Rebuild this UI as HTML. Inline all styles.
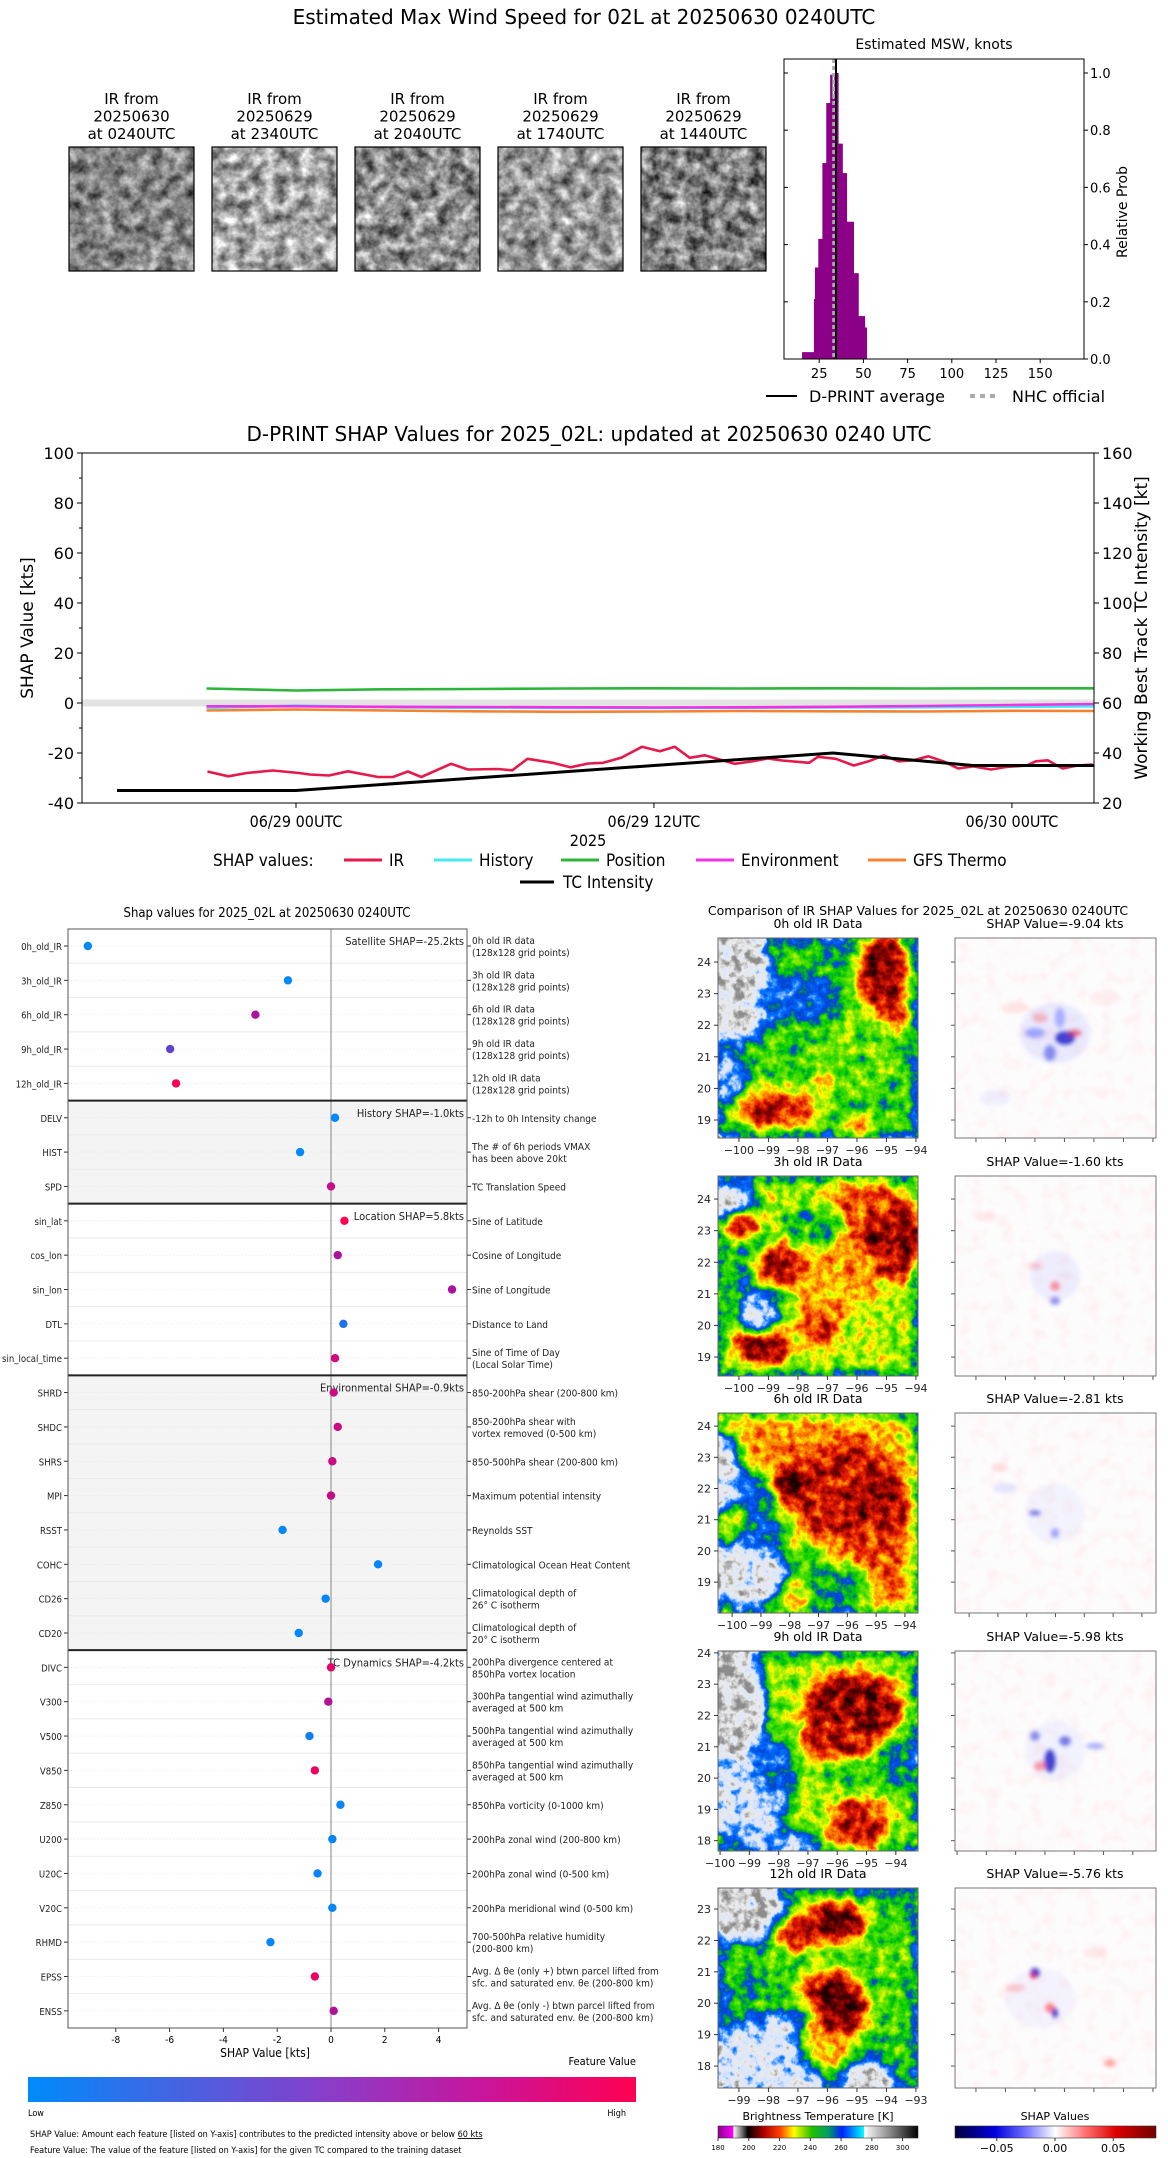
<!DOCTYPE html>
<html><head><meta charset="utf-8"><title>D-PRINT</title>
<style>
html,body{margin:0;padding:0;background:#fff;}
svg{display:block;font-family:"DejaVu Sans","Liberation Sans",sans-serif;}
.cond{font-family:"DejaVu Sans Condensed","Liberation Sans Narrow","DejaVu Sans",sans-serif;}
</style></head>
<body>
<svg id="fig" xmlns="http://www.w3.org/2000/svg" width="1168" height="2158" viewBox="0 0 1168 2158">
<defs>
  <filter id="irmap" x="0" y="0" width="1" height="1" color-interpolation-filters="sRGB">
    <feGaussianBlur in="SourceGraphic" stdDeviation="7" result="b"/>
    <feTurbulence type="fractalNoise" baseFrequency="0.09" numOctaves="4" seed="3" result="t"/>
    <feColorMatrix in="t" type="matrix" values="1 0 0 0 0  1 0 0 0 0  1 0 0 0 0  0 0 0 0 1" result="tg"/>
    <feComposite in="b" in2="tg" operator="arithmetic" k1="0" k2="1" k3="0.4" k4="-0.2" result="c"/>
    <feComponentTransfer in="c">
      <feFuncR type="table" tableValues="0.55 0.92 0.85 0 0 0 0.45 1 1 0.9 0.5 0.12"/>
      <feFuncG type="table" tableValues="0.55 0.92 0.9 0.45 0.25 0.8 0.9 1 0.55 0.1 0 0"/>
      <feFuncB type="table" tableValues="0.55 0.92 1 1 0.85 0 0 0 0 0 0 0"/>
      <feFuncA type="table" tableValues="1 1"/>
    </feComponentTransfer>
  </filter>
  <filter id="gray1" x="0" y="0" width="1" height="1" color-interpolation-filters="sRGB">
    <feTurbulence type="fractalNoise" baseFrequency="0.08" numOctaves="4" seed="7"/>
    <feColorMatrix type="matrix" values="1.0 0 0 0 0.02  1.0 0 0 0 0.02  1.0 0 0 0 0.02  0 0 0 0 1"/>
  </filter>
  <filter id="gray2" x="0" y="0" width="1" height="1" color-interpolation-filters="sRGB">
    <feTurbulence type="fractalNoise" baseFrequency="0.08" numOctaves="4" seed="11"/>
    <feColorMatrix type="matrix" values="1.1 0 0 0 0.1  1.1 0 0 0 0.1  1.1 0 0 0 0.1  0 0 0 0 1"/>
  </filter>
  <filter id="gray3" x="0" y="0" width="1" height="1" color-interpolation-filters="sRGB">
    <feTurbulence type="fractalNoise" baseFrequency="0.08" numOctaves="4" seed="21"/>
    <feColorMatrix type="matrix" values="1.2 0 0 0 -0.05  1.2 0 0 0 -0.05  1.2 0 0 0 -0.05  0 0 0 0 1"/>
  </filter>
  <filter id="gray4" x="0" y="0" width="1" height="1" color-interpolation-filters="sRGB">
    <feTurbulence type="fractalNoise" baseFrequency="0.08" numOctaves="4" seed="31"/>
    <feColorMatrix type="matrix" values="1.1 0 0 0 0.05  1.1 0 0 0 0.05  1.1 0 0 0 0.05  0 0 0 0 1"/>
  </filter>
  <filter id="gray5" x="0" y="0" width="1" height="1" color-interpolation-filters="sRGB">
    <feTurbulence type="fractalNoise" baseFrequency="0.08" numOctaves="4" seed="41"/>
    <feColorMatrix type="matrix" values="1.2 0 0 0 -0.1  1.2 0 0 0 -0.1  1.2 0 0 0 -0.1  0 0 0 0 1"/>
  </filter>
  <filter id="shapnoise" x="0" y="0" width="1" height="1" color-interpolation-filters="sRGB">
    <feTurbulence type="fractalNoise" baseFrequency="0.07" numOctaves="2" seed="5"/>
    <feColorMatrix type="matrix" values="0 0 0 0 1  0 0 0 0 0.8  0 0 0 0 0.8  1.2 0 0 0 -0.55"/>
  </filter>
  <filter id="shapblur" x="-0.2" y="-0.2" width="1.4" height="1.4"><feGaussianBlur stdDeviation="2.2"/></filter>
  <linearGradient id="featgrad" x1="0" x2="1" y1="0" y2="0">
    <stop offset="0" stop-color="#008afb"/><stop offset="0.5" stop-color="#8b3cc8"/><stop offset="0.75" stop-color="#c8149b"/><stop offset="1" stop-color="#ff0052"/>
  </linearGradient>
  <linearGradient id="btgrad" x1="0" x2="1" y1="0" y2="0">
    <stop offset="0" stop-color="#8a008a"/><stop offset="0.076" stop-color="#ff00ff"/><stop offset="0.077" stop-color="#ffffff"/>
    <stop offset="0.115" stop-color="#808080"/><stop offset="0.15" stop-color="#000000"/><stop offset="0.23" stop-color="#b00000"/>
    <stop offset="0.31" stop-color="#ff4000"/><stop offset="0.38" stop-color="#ffff00"/><stop offset="0.47" stop-color="#20c000"/>
    <stop offset="0.55" stop-color="#00a060"/><stop offset="0.62" stop-color="#0020ff"/><stop offset="0.73" stop-color="#00ffff"/>
    <stop offset="0.731" stop-color="#ffffff"/><stop offset="0.86" stop-color="#888888"/><stop offset="1" stop-color="#000000"/>
  </linearGradient>
  <linearGradient id="shapgrad" x1="0" x2="1" y1="0" y2="0">
    <stop offset="0" stop-color="#00003a"/><stop offset="0.2" stop-color="#0000e0"/><stop offset="0.35" stop-color="#7070ff"/>
    <stop offset="0.5" stop-color="#ffffff"/><stop offset="0.65" stop-color="#ff7070"/><stop offset="0.8" stop-color="#e00000"/><stop offset="1" stop-color="#700000"/>
  </linearGradient>
</defs>
</svg>
<script>
// ---------------- DATA ----------------
const histBinLeft  = [15.3, 22.0, 22.6, 24.5, 26.8, 29.0, 31.2, 32.4, 33.5, 35.8, 38.2, 40.6, 44.5, 47.2, 50.8];
const histBinRight = [22.0, 22.6, 24.5, 26.8, 29.0, 31.2, 32.4, 33.5, 35.8, 38.2, 40.6, 44.5, 47.2, 50.8, 51.9];
const histProb     = [0.024, 0.21, 0.32, 0.42, 0.685, 0.895, 0.994, 0.91, 1.0, 0.753, 0.65, 0.48, 0.30, 0.15, 0.11];
const histXTicks = [25, 50, 75, 100, 125, 150];
const histYTicks = [0.0, 0.2, 0.4, 0.6, 0.8, 1.0];
const dprintAvg = 34.5;
const nhcOfficial = 33.2;

const irTimes = [-2.97,-2.27,-1.65,-0.78,0.1,0.46,1.11,1.74,2.75,3.25,3.75,4.2,5.2,5.76,6.76,7.25,7.76,8.6,9.2,9.8,10.3,10.9,11.6,12.2,12.7,13.2,13.7,14.2,14.7,15.3,15.8,16.3,17.2,17.5,18.1,18.7,19.2,19.7,20.2,20.7,21.2,21.7,22.2,22.7,23.3,23.8,24.5,24.8,25.2,25.7,26.2,26.7];
const irShap  = [-27.4,-29.3,-28.0,-27.0,-28.0,-28.6,-29.0,-27.3,-29.6,-29.6,-27.4,-29.6,-24.3,-26.6,-26.4,-26.9,-22.3,-23.9,-25.7,-24.2,-23.9,-21.9,-17.5,-19.3,-17.5,-21.9,-20.9,-22.6,-24.3,-23.3,-22.2,-23.0,-23.9,-21.5,-22.3,-25.0,-23.3,-20.9,-23.3,-22.9,-21.3,-23.3,-26.2,-25.3,-26.6,-25.6,-25.0,-23.3,-22.9,-26.2,-25.0,-24.6];
const grpTimes   = [-3, 0, 3, 6, 9, 12, 15, 18, 21, 24, 26.75];
const historyShap  = [-2.0,-1.0,-1.7,-1.9,-2.0,-2.0,-1.9,-1.8,-1.7,-1.5,-1.3];
const positionShap = [5.8, 5.0, 5.5, 5.6, 5.8, 5.9, 5.8, 5.9, 5.8, 5.9, 5.9];
const envShap      = [-1.3,-1.3,-1.5,-1.6,-1.7,-1.8,-1.7,-1.5,-1.2,-0.8,-0.4];
const gfsShap      = [-3.0,-2.6,-3.0,-3.3,-3.5,-3.4,-3.2,-3.3,-3.4,-3.1,-3.2];
const tcTimes     = [-6, 0, 6, 12, 18, 22.7, 26.75];
const tcIntensity = [25, 25, 30, 35, 40, 35, 35];
const tsLeftTicks = [-40, -20, 0, 20, 40, 60, 80, 100];
const tsRightTicks = [20, 40, 60, 80, 100, 120, 140, 160];
const tsXTickHours = [0, 12, 24];
const tsXTickLabels = ["06/29 00UTC", "06/29 12UTC", "06/30 00UTC"];

const featNames = ["0h_old_IR","3h_old_IR","6h_old_IR","9h_old_IR","12h_old_IR","DELV","HIST","SPD","sin_lat","cos_lon","sin_lon","DTL","sin_local_time","SHRD","SHDC","SHRS","MPI","RSST","COHC","CD26","CD20","DIVC","V300","V500","V850","Z850","U200","U20C","V20C","RHMD","EPSS","ENSS"];
const featShap = [-9.04,-1.60,-2.81,-5.98,-5.76,0.15,-1.15,0.0,0.5,0.25,4.5,0.46,0.15,0.1,0.25,0.05,0.0,-1.8,1.75,-0.2,-1.2,0.0,-0.1,-0.8,-0.6,0.35,0.05,-0.5,0.05,-2.25,-0.6,0.1];
const featValue = [0.0,0.0,0.55,0.3,1.0,0.0,0.0,0.7,1.0,0.55,0.55,0.1,0.75,0.72,0.72,0.72,0.7,0.02,0.02,0.02,0.02,0.85,0.6,0.05,0.92,0.02,0.02,0.02,0.02,0.02,0.9,0.6];
const featDesc = [["0h old IR data","(128x128 grid points)"],["3h old IR data","(128x128 grid points)"],["6h old IR data","(128x128 grid points)"],["9h old IR data","(128x128 grid points)"],["12h old IR data","(128x128 grid points)"],["-12h to 0h Intensity change"],["The # of 6h periods VMAX","has been above 20kt"],["TC Translation Speed"],["Sine of Latitude"],["Cosine of Longitude"],["Sine of Longitude"],["Distance to Land"],["Sine of Time of Day","(Local Solar Time)"],["850-200hPa shear (200-800 km)"],["850-200hPa shear with","vortex removed (0-500 km)"],["850-500hPa shear (200-800 km)"],["Maximum potential intensity"],["Reynolds SST"],["Climatological Ocean Heat Content"],["Climatological depth of","26° C isotherm"],["Climatological depth of","20° C isotherm"],["200hPa divergence centered at","850hPa vortex location"],["300hPa tangential wind azimuthally","averaged at 500 km"],["500hPa tangential wind azimuthally","averaged at 500 km"],["850hPa tangential wind azimuthally","averaged at 500 km"],["850hPa vorticity (0-1000 km)"],["200hPa zonal wind (200-800 km)"],["200hPa zonal wind (0-500 km)"],["200hPa meridional wind (0-500 km)"],["700-500hPa relative humidity","(200-800 km)"],["Avg. Δ θe (only +) btwn parcel lifted from","sfc. and saturated env. θe (200-800 km)"],["Avg. Δ θe (only -) btwn parcel lifted from","sfc. and saturated env. θe (200-800 km)"]];
const groupEnds = [5, 8, 13, 21, 32];
const groupLabels = ["Satellite SHAP=-25.2kts","History SHAP=-1.0kts","Location SHAP=5.8kts","Environmental SHAP=-0.9kts","TC Dynamics SHAP=-4.2kts"];
const shapXTicks = [-8,-6,-4,-2,0,2,4];

const irRowTitles = ["0h old IR Data","3h old IR Data","6h old IR Data","9h old IR Data","12h old IR Data"];
const irRowShap = ["-9.04","-1.60","-2.81","-5.98","-5.76"];

// ---------------- helpers ----------------
const NS = "http://www.w3.org/2000/svg";
const svg = document.getElementById('fig');
function mk(tag, attrs, parent){ const e=document.createElementNS(NS,tag); for(const k in attrs) e.setAttribute(k,attrs[k]); (parent||svg).appendChild(e); return e; }
function tx(x,y,s,attrs,parent){ const e=mk('text',Object.assign({x:x,y:y},attrs||{}),parent); e.textContent=s; return e; }
function polyPts(xs,ys,fx,fy){ return xs.map((t,i)=>fx(t).toFixed(1)+','+fy(ys[i]).toFixed(1)).join(' '); }

let t0 = tx(584, 24, "Estimated Max Wind Speed for 02L at 20250630 0240UTC", {'font-size':20,'text-anchor':'middle'});



// ---------------- Thumbnails ----------------
const thumbX = [69, 212, 355, 498, 641];
const thumbLabels = [["IR from","20250630","at 0240UTC"],["IR from","20250629","at 2340UTC"],["IR from","20250629","at 2040UTC"],["IR from","20250629","at 1740UTC"],["IR from","20250629","at 1440UTC"]];
thumbX.forEach((x,i)=>{
  const g = mk('g',{});
  
  
  thumbLabels[i].forEach((s,j)=>{ tx(x+62.5, 104+j*17.5, s, {'font-size':15,'text-anchor':'middle'}, g); });
  mk('rect',{x:x,y:147,width:125,height:124,fill:'#888',filter:'url(#gray'+(i+1)+')'},g);
  mk('rect',{x:x,y:147,width:125,height:124,fill:'none',stroke:'#000','stroke-width':1.2},g);
});

// ---------------- Histogram ----------------
const hx = k => 775 + k*1.768;
const hy = p => 359 - p*286;
const hg = mk('g',{});


let ht = tx(934, 49, "Estimated MSW, knots", {'font-size':14,'text-anchor':'middle'}, hg);


histProb.forEach((p,i)=>{
  const r = mk('rect',{x:hx(histBinLeft[i]),y:hy(p),width:hx(histBinRight[i])-hx(histBinLeft[i])+0.3,height:359-hy(p),fill:'#8b0086'},hg);
  
  
});
let nhc = mk('line',{x1:hx(nhcOfficial),x2:hx(nhcOfficial),y1:59,y2:359,stroke:'#aaa','stroke-width':3,'stroke-dasharray':'4,3'},hg);


let avg = mk('line',{x1:hx(dprintAvg),x2:hx(dprintAvg),y1:59,y2:359,stroke:'#000','stroke-width':2},hg);


mk('rect',{x:784,y:59,width:300,height:300,fill:'none',stroke:'#000','stroke-width':1},hg);
histXTicks.forEach(v=>{ mk('line',{x1:hx(v),x2:hx(v),y1:359,y2:363,stroke:'#000'},hg); tx(hx(v),378,String(v),{'font-size':13,'text-anchor':'middle'},hg); });
histYTicks.forEach(v=>{ mk('line',{x1:1084,x2:1088,y1:hy(v),y2:hy(v),stroke:'#000'},hg); mk('line',{x1:784,x2:788,y1:hy(v),y2:hy(v),stroke:'#000'},hg); tx(1090,hy(v)+5,v.toFixed(1),{'font-size':13},hg); });
let hyl = tx(0,0,"Relative Prob",{'font-size':14,'text-anchor':'middle',transform:'translate(1127,212) rotate(-90)'},hg);


const hl = mk('g',{},hg);


mk('line',{x1:766,x2:797,y1:396,y2:396,stroke:'#000','stroke-width':2},hl);
tx(809,402,"D-PRINT average",{'font-size':16},hl);
mk('line',{x1:970,x2:1000,y1:396,y2:396,stroke:'#aaa','stroke-width':4,'stroke-dasharray':'5,5'},hl);
tx(1012,402,"NHC official",{'font-size':16},hl);

// ---------------- Time series ----------------
const TX = t => 296 + t*29.83;
const TY = v => 703 - v*2.5;
const tg = mk('g',{});


let tst = tx(589, 441, "D-PRINT SHAP Values for 2025_02L: updated at 20250630 0240 UTC", {'font-size':20,'text-anchor':'middle'}, tg);


const tsL=82, tsR=1094;
let band = mk('rect',{x:tsL,y:TY(1.4),width:tsR-tsL,height:TY(-1.4)-TY(1.4),fill:'#e3e3e3'},tg);


const series = [[grpTimes,positionShap,'#2db43a','position-line'],[grpTimes,historyShap,'#40eaf0','history-line'],[grpTimes,envShap,'#f032e6','environment-line'],[grpTimes,gfsShap,'#f58231','gfs-thermo-line'],[irTimes,irShap,'#e6194b','ir-line']];
series.forEach(s=>{
  const p = mk('polyline',{points:polyPts(s[0],s[1],TX,TY),fill:'none',stroke:s[2],'stroke-width':2.6,'stroke-linejoin':'round'},tg);
  
  
});
let tcl = mk('polyline',{points:polyPts(tcTimes,tcIntensity,TX,v=>TY(v-60)),fill:'none',stroke:'#000','stroke-width':3},tg);


mk('rect',{x:tsL,y:453,width:tsR-tsL,height:350,fill:'none',stroke:'#000','stroke-width':1},tg);
tsLeftTicks.forEach(v=>{ mk('line',{x1:tsL-5,x2:tsL,y1:TY(v),y2:TY(v),stroke:'#000'},tg); tx(tsL-8,TY(v)+6,String(v),{'font-size':16,'text-anchor':'end'},tg); if(v<100) mk('line',{x1:tsL-3,x2:tsL,y1:TY(v+10),y2:TY(v+10),stroke:'#000'},tg); });
tsRightTicks.forEach(v=>{ mk('line',{x1:tsR,x2:tsR+5,y1:TY(v-60),y2:TY(v-60),stroke:'#000'},tg); tx(tsR+8,TY(v-60)+6,String(v),{'font-size':16},tg); });
tsXTickHours.forEach((h,i)=>{ mk('line',{x1:TX(h),x2:TX(h),y1:803,y2:808,stroke:'#000'},tg); tx(TX(h),827,tsXTickLabels[i],{'font-size':16,'text-anchor':'middle','class':'cond'},tg); });
tx(588,846,"2025",{'font-size':16,'text-anchor':'middle','class':'cond'},tg);
let tyl = tx(0,0,"SHAP Value [kts]",{'font-size':17,'text-anchor':'middle',transform:'translate(33,628) rotate(-90)'},tg);


let tyr = tx(0,0,"Working Best Track TC Intensity [kt]",{'font-size':17,'text-anchor':'middle',transform:'translate(1147,628) rotate(-90)'},tg);


const lg = mk('g',{'class':'cond'},tg);


tx(213,866,"SHAP values:",{'font-size':17},lg);
[[344,'#e6194b','IR'],[434,'#40eaf0','History'],[561,'#2db43a','Position'],[696,'#f032e6','Environment'],[868,'#f58231','GFS Thermo']].forEach(e=>{
  mk('line',{x1:e[0],x2:e[0]+38,y1:860,y2:860,stroke:e[1],'stroke-width':3},lg); tx(e[0]+45,866,e[2],{'font-size':17},lg);
});
mk('line',{x1:520,x2:554,y1:882,y2:882,stroke:'#000','stroke-width':3},lg);
tx(563,888,"TC Intensity",{'font-size':17},lg);

// ---------------- SHAP feature panel ----------------
const SL=68, SR=467, ST=929, SB=2028;
const SX = v => 331 + v*26.9;
const rowY = i => 946 + i*34.35;
const sg = mk('g',{'class':'cond'});


let sgt = tx(267, 917, "Shap values for 2025_02L at 20250630 0240UTC", {'font-size':13,'text-anchor':'middle'}, sg);


mk('rect',{x:SL,y:(rowY(4)+rowY(5))/2,width:SR-SL,height:rowY(8)-rowY(5),fill:'#f4f4f4'},sg);
mk('rect',{x:SL,y:(rowY(12)+rowY(13))/2,width:SR-SL,height:rowY(21)-rowY(13),fill:'#f4f4f4'},sg);
featNames.forEach((n,i)=>{
  const y=rowY(i);
  mk('line',{x1:SL,x2:SR,y1:y,y2:y,stroke:'#ddd','stroke-width':0.6,'stroke-dasharray':'1,2'},sg);
  if(i>0) mk('line',{x1:SL,x2:SR,y1:y-17.2,y2:y-17.2,stroke:'#e6e6e6','stroke-width':0.8},sg);
  mk('line',{x1:SL-4,x2:SL,y1:y,y2:y,stroke:'#333'},sg);
  mk('line',{x1:SR,x2:SR+4,y1:y,y2:y,stroke:'#333'},sg);
  const lab = tx(SL-6,y+4,n,{'font-size':9.5,'text-anchor':'end',fill:'#222'},sg);
  
  
  const d=featDesc[i];
  d.forEach((s,j)=>{ tx(SR+5, y+(d.length===1?4:-2+j*12), s, {'font-size':10,fill:'#222'}, sg); });
});
mk('line',{x1:SX(0),x2:SX(0),y1:ST,y2:SB,stroke:'#999','stroke-width':1.2},sg);
groupEnds.slice(0,4).forEach(e=>{ const y=(rowY(e-1)+rowY(e))/2; mk('line',{x1:SL,x2:SR,y1:y,y2:y,stroke:'#222','stroke-width':2},sg); });
const gStart=[0,5,8,13,21];
groupLabels.forEach((s,i)=>{ const l=tx(SR-3,rowY(gStart[i])-1,s,{'font-size':11,'text-anchor':'end',fill:'#222'},sg);   });
function featColor(v){ const a=[0,138,251], m=[160,20,170], b=[255,0,82]; let c;
  if(v<0.5){const f=v/0.5; c=a.map((x,k)=>x+(m[k]-x)*f);} else {const f=(v-0.5)/0.5; c=m.map((x,k)=>x+(b[k]-x)*f);} return 'rgb('+c.map(Math.round).join(',')+')'; }
featShap.forEach((v,i)=>{
  const c = mk('circle',{cx:SX(v),cy:rowY(i),r:4.2,fill:featColor(featValue[i])},sg);
  
  
});
mk('rect',{x:SL,y:ST,width:SR-SL,height:SB-ST,fill:'none',stroke:'#555','stroke-width':1},sg);
shapXTicks.forEach(v=>{ mk('line',{x1:SX(v),x2:SX(v),y1:SB,y2:SB+4,stroke:'#333'},sg); tx(SX(v),SB+15,String(v),{'font-size':10,'text-anchor':'middle'},sg); });
let sxl = tx(265,SB+29,"SHAP Value [kts]",{'font-size':12,'text-anchor':'middle'},sg);


const cb = mk('g',{},sg);


tx(636,2065,"Feature Value",{'font-size':11,'text-anchor':'end'},cb);
mk('rect',{x:28,y:2077,width:608,height:25,fill:'url(#featgrad)'},cb);
tx(28,2116,"Low",{'font-size':9},cb);
tx(626,2116,"High",{'font-size':9,'text-anchor':'end'},cb);
const ft1 = tx(30,2137,"SHAP Value: Amount each feature [listed on Y-axis] contributes to the predicted intensity above or below ",{'font-size':9},sg);
const ts1 = document.createElementNS(NS,'tspan'); ts1.setAttribute('text-decoration','underline'); ts1.textContent="60 kts"; ft1.appendChild(ts1);


const ft2 = tx(30,2153,"Feature Value: The value of the feature [listed on Y-axis] for the given TC compared to the training dataset",{'font-size':9},sg);



// ---------------- IR comparison panels ----------------
let rt = tx(918, 915, "Comparison of IR SHAP Values for 2025_02L at 20250630 0240UTC", {'font-size':12.5,'text-anchor':'middle'});


const rowTop = [938, 1176, 1413, 1651, 1888];
const latTop = [24.76, 24.73, 24.42, 24.06, 23.67], latPx = [31.6, 31.6, 31.2, 31.3, 31.4];
const lonLeft = [-100.71, -100.71, -100.49, -100.07, -99.71], lonPx = [29.5, 29.5, 28.8, 29.3, 29.5];
const irBase = [125, 150, 185, 145, 125];
const irBlobs = [
 [[22,45,32,60,20],[15,140,12,25,45],[80,60,40,25,80],[165,35,25,45,230],[180,80,10,18,210],[60,170,45,20,205],[45,180,15,12,235],[110,140,10,12,220],[140,190,16,9,215],[120,20,18,12,100],[140,110,40,40,135]],
 [[15,25,22,18,25],[40,110,25,60,85],[170,60,40,45,225],[145,25,35,22,200],[25,50,18,13,235],[60,90,26,22,225],[45,170,28,18,240],[100,150,20,22,210],[120,100,40,40,180],[95,50,30,20,110],[40,140,18,18,35]],
 [[10,60,15,40,30],[30,160,40,35,25],[45,120,30,20,90],[40,80,22,22,85],[130,80,55,50,215],[160,100,30,35,225],[70,70,18,16,245],[185,20,20,20,160],[150,150,30,40,200],[120,175,35,25,110],[90,150,20,20,120]],
 [[18,55,30,60,15],[30,150,40,40,40],[55,115,25,30,80],[135,60,50,40,230],[120,90,35,28,220],[140,175,30,28,215],[180,110,20,30,100],[60,190,40,12,60],[130,120,30,12,110]],
 [[30,25,40,30,15],[55,170,60,45,40],[150,190,25,20,20],[110,150,28,35,175],[115,35,35,22,235],[80,45,26,18,220],[110,100,30,18,225],[125,120,26,26,240],[170,80,35,30,130],[30,110,30,25,110]]
];
const shapBlobs = [
 [[100,95,35,30,'#5060ff',0.12],[110,100,10,7,'#0000c0',0.7],[85,80,8,5,'#ff4040',0.3],[120,95,7,4,'#e00000',0.45],[95,115,6,8,'#2030e0',0.5],[60,70,14,6,'#ff8080',0.15],[150,60,16,8,'#ff9090',0.12],[40,160,16,8,'#9090ff',0.12],[80,95,10,5,'#3040ff',0.4],[105,80,5,10,'#3040ff',0.35]],
 [[100,100,25,25,'#6070ff',0.1],[100,110,5,5,'#ff2020',0.45],[100,125,5,4,'#3030e0',0.5],[80,90,7,4,'#ff6060',0.25],[30,40,12,5,'#ff9090',0.15]],
 [[100,100,30,30,'#8090ff',0.08],[80,100,6,3,'#2020d0',0.55],[100,120,4,5,'#3040ff',0.45],[45,55,8,4,'#ff8080',0.25],[50,75,12,5,'#8080ff',0.2]],
 [[100,100,30,30,'#8090ff',0.1],[95,110,6,12,'#0000c0',0.7],[85,115,6,5,'#ff3030',0.45],[110,90,6,5,'#2030e0',0.6],[80,85,5,5,'#2030e0',0.5],[140,95,9,3,'#4050ff',0.45]],
 [[85,110,35,30,'#9090ff',0.08],[80,85,5,5,'#1010c0',0.8],[78,88,3,3,'#ff2020',0.8],[95,120,5,5,'#ff3030',0.6],[100,125,3,5,'#1010c0',0.8],[155,175,6,4,'#ff4040',0.45],[60,100,10,4,'#ff6060',0.3],[140,65,12,6,'#ffa0a0',0.2]]
];
rowTop.forEach((top,r)=>{
  const g = mk('g',{});
  
  
  tx(818, top-10, irRowTitles[r], {'font-size':12.5,'text-anchor':'middle'}, g);
  tx(1055, top-10, "SHAP Value="+irRowShap[r]+" kts", {'font-size':12.5,'text-anchor':'middle'}, g);
  const cp = mk('clipPath',{id:'clip'+r},g); mk('rect',{x:718,y:top,width:200,height:200},cp);
  const mg = mk('g',{'clip-path':'url(#clip'+r+')'},g);
  const fg = mk('g',{filter:'url(#irmap)'},mg);
  
  
  const bv = irBase[r];
  mk('rect',{x:718,y:top,width:200,height:200,fill:'rgb('+bv+','+bv+','+bv+')'},fg);
  irBlobs[r].forEach(b=>{ mk('ellipse',{cx:718+b[0],cy:top+b[1],rx:b[2],ry:b[3],fill:'rgb('+b[4]+','+b[4]+','+b[4]+')'},fg); });
  mk('rect',{x:718,y:top,width:200,height:200,fill:'none',stroke:'#666'},g);
  for(let lat=Math.ceil(latTop[r]-200/latPx[r]); lat<=Math.floor(latTop[r]); lat++){
    const y = top + (latTop[r]-lat)*latPx[r];
    mk('line',{x1:714,x2:718,y1:y,y2:y,stroke:'#333'},g); tx(711,y+4,String(lat),{'font-size':11,'text-anchor':'end',fill:'#222'},g);
    mk('line',{x1:951,x2:955,y1:y,y2:y,stroke:'#555'},g);
  }
  for(let lon=Math.ceil(lonLeft[r]); lon<=lonLeft[r]+200/lonPx[r]; lon++){
    const x = 718 + (lon-lonLeft[r])*lonPx[r];
    mk('line',{x1:x,x2:x,y1:top+200,y2:top+204,stroke:'#333'},g); tx(x,top+216,'\u2212'+Math.abs(lon),{'font-size':11,'text-anchor':'middle',fill:'#222'},g);
    mk('line',{x1:x+237,x2:x+237,y1:top+200,y2:top+204,stroke:'#555'},g);
  }
  const sm = mk('g',{},g);
  
  
  mk('rect',{x:955,y:top,width:201,height:200,fill:'#fdfcfd'},sm);
  mk('rect',{x:955,y:top,width:201,height:200,fill:'#fff',filter:'url(#shapnoise)',opacity:0.5},sm);
  const sb = mk('g',{filter:'url(#shapblur)'},sm);
  shapBlobs[r].forEach(b=>{ mk('ellipse',{cx:955+b[0],cy:top+b[1],rx:b[2],ry:b[3],fill:b[4],'fill-opacity':b[5]},sb); });
  mk('rect',{x:955,y:top,width:201,height:200,fill:'none',stroke:'#777'},sm);
});
const btTicks = [180,200,220,240,260,280,300];
const bcb = mk('g',{});


tx(818,2120,"Brightness Temperature [K]",{'font-size':11,'text-anchor':'middle'},bcb);
mk('rect',{x:718,y:2126,width:200,height:12,fill:'url(#btgrad)',stroke:'#333','stroke-width':0.6},bcb);
btTicks.forEach(v=>{ const x=718+(v-180)/130*200; mk('line',{x1:x,x2:x,y1:2138,y2:2141,stroke:'#333'},bcb); tx(x,2150,String(v),{'font-size':7,'text-anchor':'middle'},bcb); });
const scbTicks = [-0.05, 0.00, 0.05];
const scb = mk('g',{});


tx(1055,2120,"SHAP Values",{'font-size':11,'text-anchor':'middle'},scb);
mk('rect',{x:955,y:2126,width:201,height:12,fill:'url(#shapgrad)',stroke:'#333','stroke-width':0.6},scb);
scbTicks.forEach(v=>{ const x=1055+v*1165; mk('line',{x1:x,x2:x,y1:2138,y2:2141,stroke:'#333'},scb); tx(x,2152,(v<0?'\u2212':'')+Math.abs(v).toFixed(2),{'font-size':11,'text-anchor':'middle'},scb); });
</script>
</body></html>
